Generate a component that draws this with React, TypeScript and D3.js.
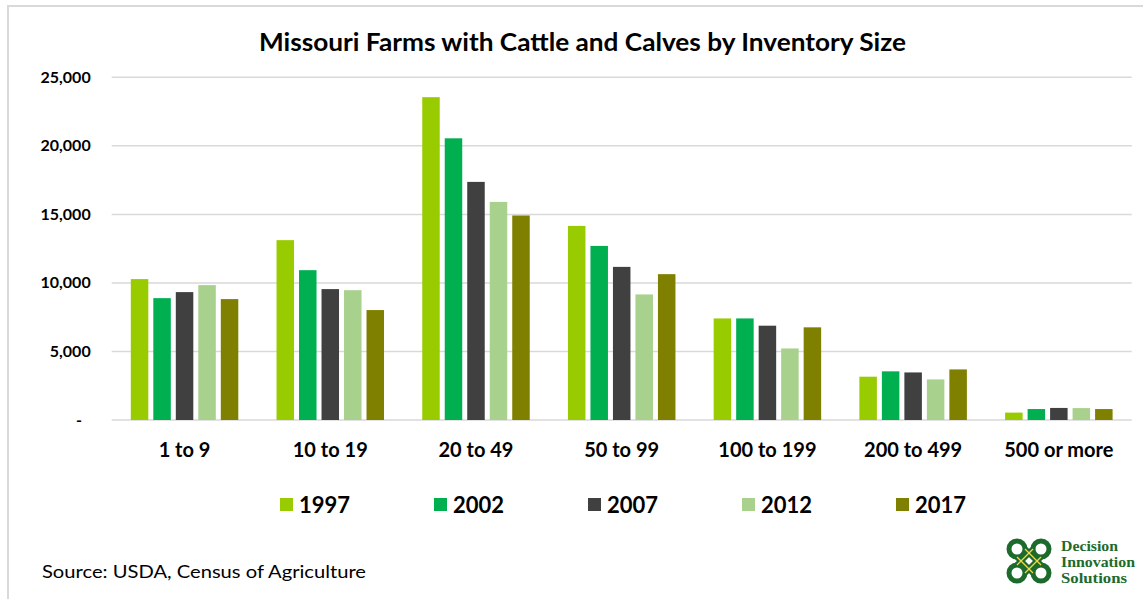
import React from "react";
import * as d3 from "d3";

const categories = ["1 to 9", "10 to 19", "20 to 49", "50 to 99", "100 to 199", "200 to 499", "500 or more"];
const years = ["1997", "2002", "2007", "2012", "2017"];
const v1997 = [10280, 13120, 23550, 14160, 7410, 3160, 540];
const v2002 = [8890, 10930, 20550, 12700, 7410, 3550, 800];
const v2007 = [9330, 9550, 17370, 11170, 6880, 3470, 880];
const v2012 = [9840, 9470, 15910, 9160, 5220, 2960, 870];
const v2017 = [8820, 8020, 14920, 10640, 6760, 3690, 800];
const yTicks = [0, 5000, 10000, 15000, 20000, 25000];
const colors = ["#99cc00", "#00b050", "#404040", "#a9d18e", "#808000"];

const series = [v1997, v2002, v2007, v2012, v2017];

const W = 1143;
const H = 599;
const FONT = "Lato, 'Open Sans', sans-serif";

export default function App() {
  const x0 = d3.scaleBand<string>().domain(categories).range([111.7, 1131.7]).paddingInner(0.228).paddingOuter(0.114);
  const x1 = d3.scaleBand<string>().domain(years).range([0, x0.bandwidth()]).paddingInner(0.222).paddingOuter(0.111);
  const y = d3.scaleLinear().domain([0, 25000]).range([420, 77.3]);
  const fmt = d3.format(",");

  const legendX = d3.scalePoint<string>().domain(years).range([280, 896]);

  return (
    <svg width={W} height={H} style={{ position: "absolute", left: 0, top: 0, background: "#fff" }} fontFamily={FONT}>
      <rect x={0} y={0} width={W} height={H} fill="#fff" />
      {/* outer border */}
      <line x1={7} x2={W} y1={6} y2={6} stroke="#d9d9d9" strokeWidth={2} />
      <line x1={8} x2={8} y1={6} y2={H} stroke="#d9d9d9" strokeWidth={2} />

      <text x={582.5} y={51} textAnchor="middle" fontSize={24} fontWeight={700} fill="#000" textLength={647} lengthAdjust="spacingAndGlyphs">
        Missouri Farms with Cattle and Calves by Inventory Size
      </text>

      {/* gridlines */}
      {yTicks.map((t) => (
        <g key={t}>
          <line x1={111.7} x2={1131.7} y1={y(t)} y2={y(t)} stroke="#d9d9d9" strokeWidth={1.5} />
          <text x={t === 0 ? 82 : 90.7} y={y(t) + 5.5} textAnchor="end" fontSize={16} fontWeight={700} fill="#000">
            {t === 0 ? "-" : fmt(t)}
          </text>
        </g>
      ))}

      {/* bars */}
      {categories.map((c, ci) => (
        <g key={c} transform={`translate(${x0(c)},0)`}>
          {years.map((yr, si) => (
            <rect
              key={yr}
              x={x1(yr)}
              y={y(series[si][ci])}
              width={x1.bandwidth()}
              height={y(0) - y(series[si][ci])}
              fill={colors[si]}
            />
          ))}
        </g>
      ))}

      {/* category labels */}
      {categories.map((c) => (
        <text key={c} x={(x0(c) as number) + x0.bandwidth() / 2} y={457} textAnchor="middle" fontSize={20} fontWeight={700} fill="#000">
          {c}
        </text>
      ))}

      {/* legend */}
      {years.map((yr, i) => (
        <g key={yr} transform={`translate(${legendX(yr)},0)`}>
          <rect x={0} y={498} width={13} height={13} fill={colors[i]} />
          <text x={19} y={513} fontSize={22} fontWeight={700} fill="#000">
            {yr}
          </text>
        </g>
      ))}

      <text x={42} y={578} fontSize={18} fill="#000" textLength={324} lengthAdjust="spacingAndGlyphs">
        Source: USDA, Census of Agriculture
      </text>

      {/* logo */}
      <g transform="translate(1029,561)">
        {[[-12, -12], [12, -12], [-12, 12], [12, 12]].map(([dx, dy], i) => (
          <circle key={i} cx={dx} cy={dy} r={8} fill="none" stroke="#1d6b2c" strokeWidth={5} />
        ))}
        <line x1={-12} y1={-4} x2={4} y2={12} stroke="#1d6b2c" strokeWidth={6} />
        <line x1={-4} y1={-12} x2={12} y2={4} stroke="#1d6b2c" strokeWidth={6} />
        <line x1={12} y1={-4} x2={-4} y2={12} stroke="#1d6b2c" strokeWidth={6} />
        <line x1={4} y1={-12} x2={-12} y2={4} stroke="#1d6b2c" strokeWidth={6} />
        <line x1={-12} y1={-4} x2={4} y2={12} stroke="#f2d64b" strokeWidth={1.3} />
        <line x1={-4} y1={-12} x2={12} y2={4} stroke="#f2d64b" strokeWidth={1.3} />
        <line x1={12} y1={-4} x2={-4} y2={12} stroke="#f2d64b" strokeWidth={1.3} />
        <line x1={4} y1={-12} x2={-12} y2={4} stroke="#f2d64b" strokeWidth={1.3} />
      </g>
      <g fontFamily="'Liberation Serif', 'DejaVu Serif', serif" fontWeight={700} fontSize={14} fill="#1d6b2c">
        <text x={1061} y={551} textLength={57} lengthAdjust="spacingAndGlyphs">Decision</text>
        <text x={1061} y={567} textLength={74} lengthAdjust="spacingAndGlyphs">Innovation</text>
        <text x={1061} y={583} textLength={66} lengthAdjust="spacingAndGlyphs">Solutions</text>
      </g>
    </svg>
  );
}
